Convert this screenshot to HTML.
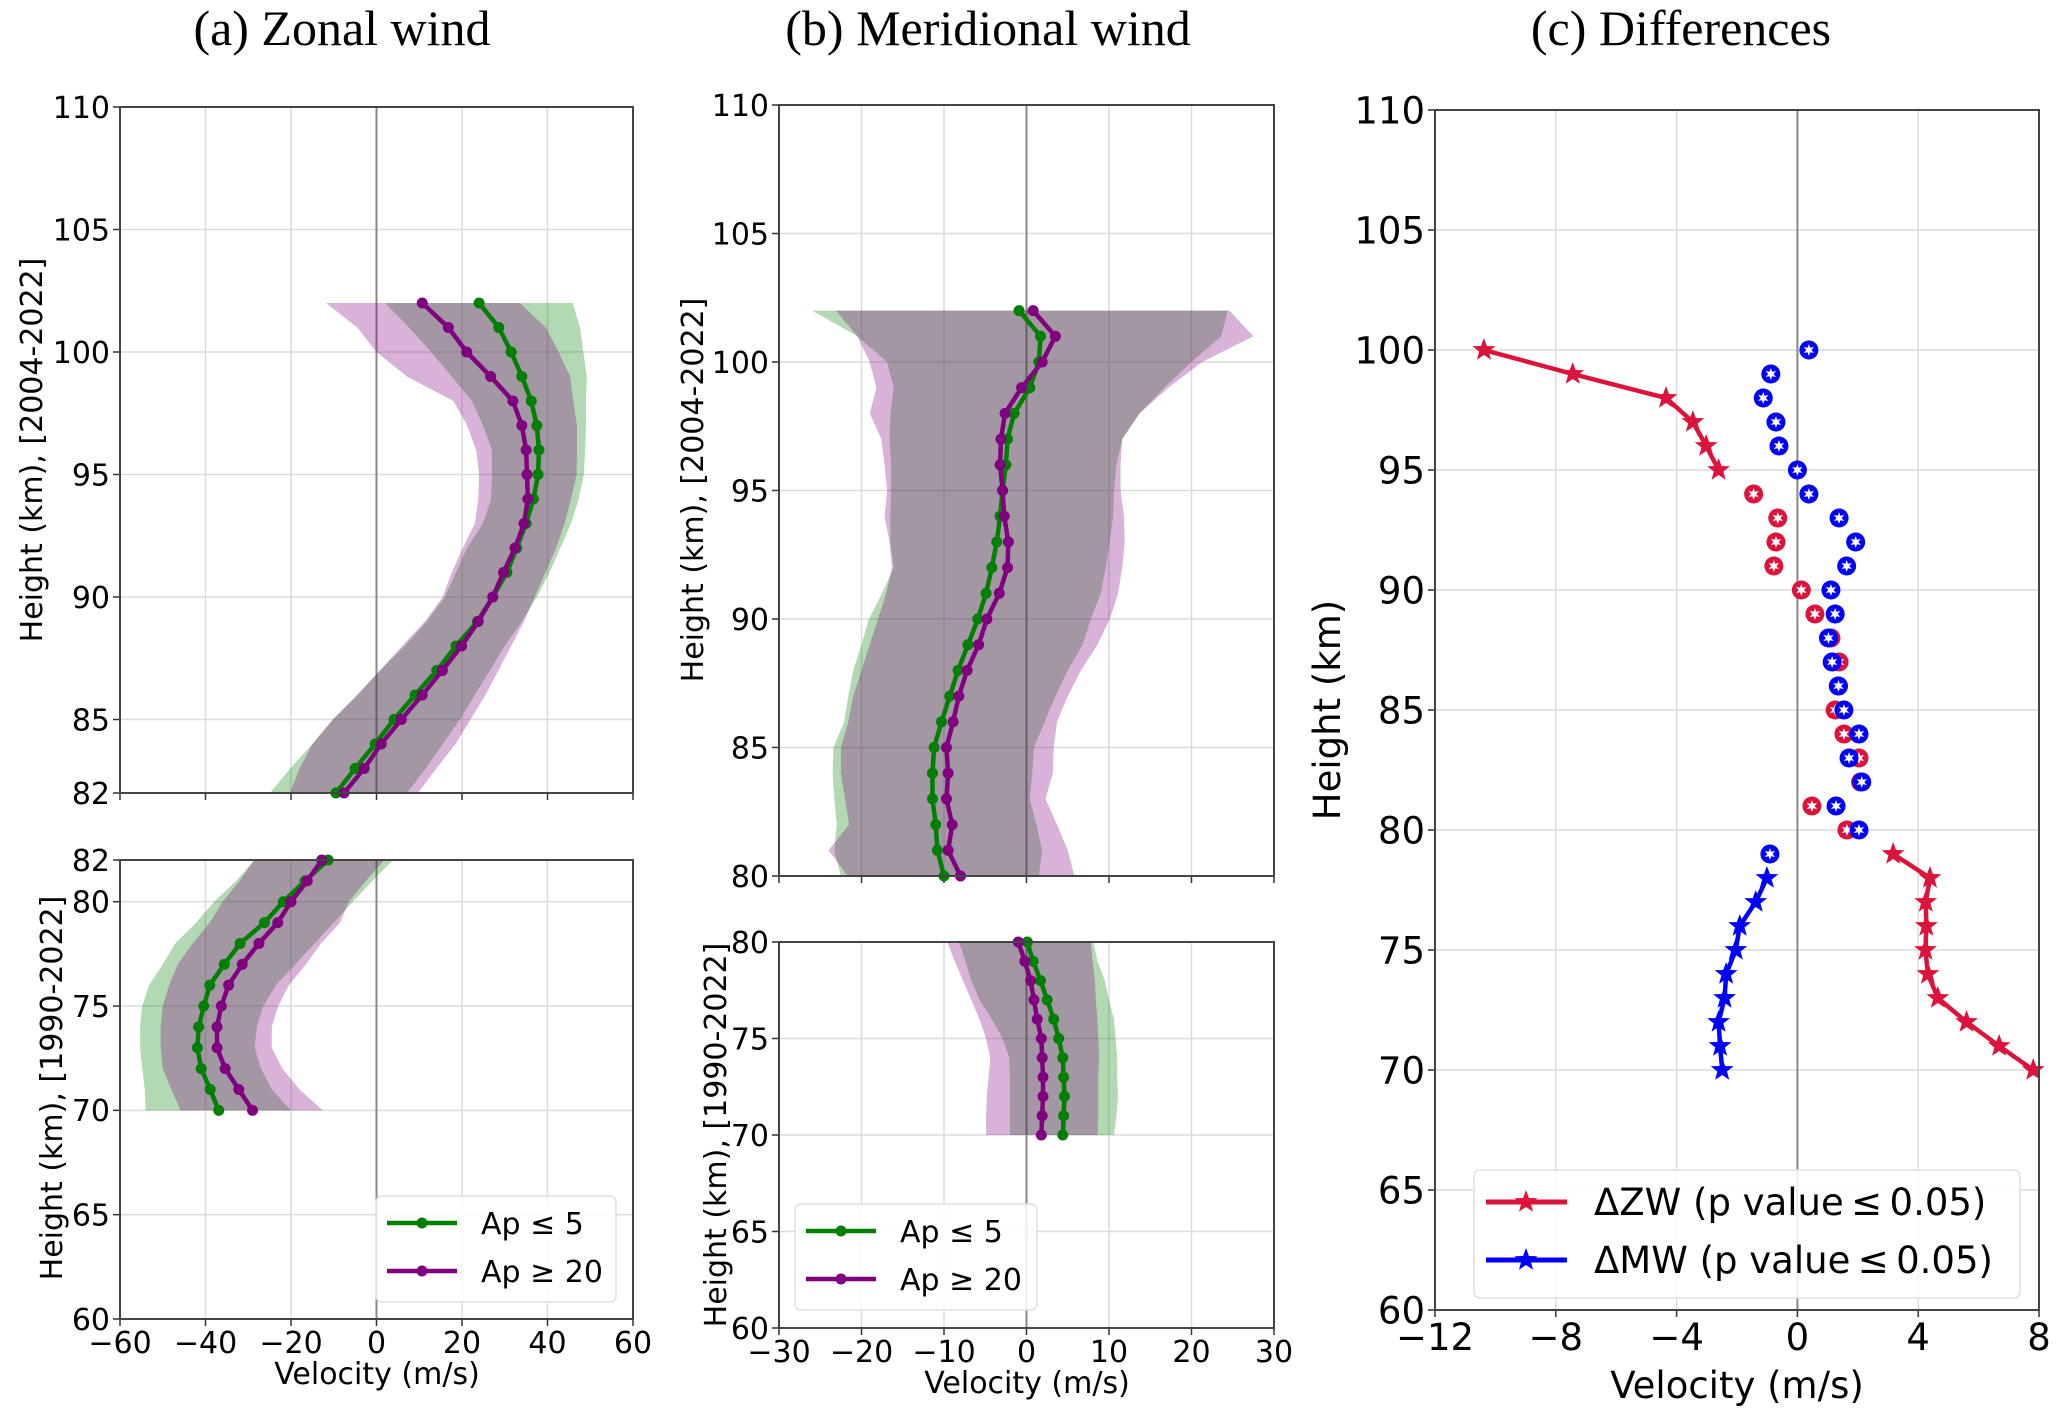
<!DOCTYPE html>
<html><head><meta charset="utf-8">
<style>
html,body{margin:0;padding:0;background:#fff;}
svg{display:block;}
text{font-family:"DejaVu Sans","Liberation Sans",sans-serif;fill:#000;}
.ttl{font-family:"Liberation Serif",serif;font-size:50px;}
</style></head>
<body>
<svg id="chart" width="2067" height="1411" viewBox="0 0 2067 1411" xmlns="http://www.w3.org/2000/svg">
<text class="ttl" x="342" y="45" text-anchor="middle">(a) Zonal wind</text>
<text class="ttl" x="988" y="45" text-anchor="middle">(b) Meridional wind</text>
<text class="ttl" x="1681" y="45" text-anchor="middle">(c) Differences</text>
</svg>
<script>
// ---- Panel (a) zonal wind, upper (2004-2022) ----
const aTopH=[102,101,100,99,98,97,96,95,94,93,92,91,90,89,88,87,86,85,84,83,82];
const aTopGreen=[24,28.6,31.5,34,36.2,37.5,38,37.8,36.7,35,32.8,30.5,27.2,23.6,18.6,14.1,9,4.1,-0.3,-5,-9.5];
const aTopPurple=[10.7,16.8,21.1,26.7,31.9,34,35,35.2,35.4,34.5,32.4,29.7,27.2,23.8,19.9,15.4,10.7,5.8,1.1,-2.9,-7.6];
const aTopGreenLo=[2,7.6,12.8,17.6,22.3,24.9,27,27,26.8,24.9,21.2,18.6,16,11.8,6.6,0.8,-4.5,-10.2,-15,-20.2,-24.9];
const aTopGreenHi=[45.9,47.6,48.4,49.2,49,49,48.8,48.5,47.3,45.5,43,40.5,37.5,34,30,26.5,23,19.5,15.5,11.5,7.1];
const aTopPurpleLo=[-11.8,-4.5,0,7.1,18,21.2,23.3,24,23.8,23,20.2,17.6,15.5,11.3,6,0.8,-4.5,-10.2,-15,-18,-20.2];
const aTopPurpleHi=[33.5,39.6,42.6,45.3,46,46.9,46.9,46.8,45.5,44,42,39.5,37,34.5,31.5,28.5,25.5,22,18.5,14,9.7];
// ---- Panel (a) lower (1990-2022) ----
const aLowH=[82,81,80,79,78,77,76,75,74,73,72,71,70];
const aLowGreen=[-11.3,-16.7,-21.8,-26.2,-31.9,-35.6,-39,-40.4,-41.6,-41.9,-41,-38.9,-36.9];
const aLowPurple=[-12.8,-16.2,-20,-23.1,-27.5,-31.4,-34.6,-36.3,-37.3,-37.3,-35.4,-32.2,-29];
const aLowGreenLo=[-28.6,-32.8,-38,-42.2,-47.1,-50,-53.2,-54.8,-55.3,-55.3,-54.8,-54.2,-54];
const aLowGreenHi=[3.9,-1,-5.5,-10,-14.5,-19,-23.5,-26.5,-28,-28.5,-27,-24.5,-20];
const aLowPurpleLo=[-28.6,-32,-36,-39,-43,-46.5,-48.5,-50,-50.5,-50.5,-50,-48,-45.8];
const aLowPurpleHi=[1.8,-2.5,-6.5,-8.5,-13,-16.5,-20.5,-23,-24.5,-24.5,-22,-18,-12.6];
// ---- Panel (b) meridional wind, upper ----
const bTopH=[102,101,100,99,98,97,96,95,94,93,92,91,90,89,88,87,86,85,84,83,82,81,80];
const bTopGreen=[-0.9,1.7,1.5,0.4,-1.5,-2.3,-2.5,-2.9,-3.2,-3.6,-4.2,-4.9,-5.9,-7.1,-8.3,-9.3,-10.3,-11.2,-11.4,-11.4,-11,-10.8,-10];
const bTopPurple=[0.8,3.5,1.9,-0.6,-2.6,-3.1,-3.2,-2.9,-2.7,-2.2,-2.3,-3.3,-4.8,-5.8,-7.2,-8.2,-8.9,-9.7,-9.5,-9.7,-9,-9.5,-8];
const bTopGreenLo=[-26,-20.5,-16.9,-16.1,-16.5,-16.6,-16.4,-16.4,-16.5,-16.5,-16.1,-17.5,-19.1,-20,-21,-21.6,-22.1,-23.4,-23.5,-23.3,-23,-23.3,-22.5];
const bTopGreenHi=[24.4,23.6,20,16.7,13.7,11.6,10.9,10.6,10.5,10.1,9.6,9,7.8,6.8,5,3.5,2.2,0.9,0.7,0.4,1.2,1.9,1.5];
const bTopPurpleLo=[-23.1,-20.5,-19,-18.2,-19,-17.6,-17.2,-16.9,-17.2,-16.6,-16.3,-17,-18,-19,-20,-21,-21.6,-22.5,-22.5,-22,-21.5,-24,-21.7];
const bTopPurpleHi=[24.6,27.5,21.3,17.2,13.7,11.6,11.4,11.4,11.8,11.9,11.6,11.1,10.1,8.6,6.6,5,3.7,3.3,3.2,2.3,3.7,5,5.8];
// ---- Panel (b) lower ----
const bLowH=[80,79,78,77,76,75,74,73,72,71,70];
const bLowGreen=[0.1,0.8,1.7,2.5,3.3,3.9,4.4,4.5,4.6,4.5,4.4];
const bLowPurple=[-1,-0.2,0.5,0.9,1.3,1.8,1.9,2,2,1.9,1.8];
const bLowGreenLo=[-8.2,-7.4,-6.7,-5.7,-4.2,-2.9,-2.1,-2,-2,-2,-2];
const bLowGreenHi=[8.1,8.6,9.5,10,10.6,10.8,11,11,11.1,10.9,10.6];
const bLowPurpleLo=[-9.6,-8.7,-7.7,-6.7,-5.7,-4.9,-4.4,-4.6,-4.8,-4.9,-4.9];
const bLowPurpleHi=[7.8,8,8.3,8.4,8.6,8.7,8.8,8.7,8.7,8.7,8.6];
// ---- Panel (c) differences ----
const cZWTopH=[100,99,98,97,96,95];
const cZWTop=[-10.38,-7.44,-4.35,-3.46,-3.02,-2.61];
const cZWDotH=[94,93,92,91,90,89,88,87,86,85,84,83,82,81,80];
const cZWDot=[-1.45,-0.65,-0.71,-0.78,0.13,0.58,1.11,1.38,1.35,1.25,1.54,2.04,2.09,0.48,1.64];
const cZWLowH=[79,78,77,76,75,74,73,72,71,70];
const cZWLow=[3.17,4.39,4.25,4.27,4.24,4.32,4.65,5.6,6.68,7.81];
const cMWDotH=[100,99,98,97,96,95,94,93,92,91,90,89,88,87,86,85,84,83,82,81,80,79];
const cMWDot=[0.38,-0.88,-1.13,-0.71,-0.61,0,0.38,1.38,1.93,1.63,1.11,1.25,1.03,1.15,1.36,1.54,2.04,1.71,2.13,1.28,2.04,-0.91];
const cMWLowH=[78,77,76,75,74,73,72,71,70];
const cMWLow=[-1.01,-1.38,-1.91,-2.04,-2.36,-2.41,-2.61,-2.56,-2.49];
const aXTicks=[-60,-40,-20,0,20,40,60];
const bXTicks=[-30,-20,-10,0,10,20,30];
const cXTicks=[-12,-8,-4,0,4,8];

const svg=document.getElementById('chart');
const NS='http://www.w3.org/2000/svg';
function mk(tag,attrs,parent){const e=document.createElementNS(NS,tag);for(const k in attrs)e.setAttribute(k,attrs[k]);(parent||svg).appendChild(e);return e;}

function axis(o){
  const sx=v=>o.x0+(v-o.xmin)/(o.xmax-o.xmin)*(o.x1-o.x0);
  const sy=h=>o.y1-(h-o.ymin)/(o.ymax-o.ymin)*(o.y1-o.y0);
  const g=mk('g',{});
  
  
  o.xticks.forEach(t=>{
    const l=mk('line',{x1:sx(t),x2:sx(t),y1:o.y0,y2:o.y1,stroke:'#dcdcdc','stroke-width':1.5},g);
    
    
    mk('line',{x1:sx(t),x2:sx(t),y1:o.y1,y2:o.y1+7,stroke:'#333','stroke-width':1.5},g);
    if(o.xlabels){const tx=mk('text',{x:sx(t),y:o.y1+o.tickDy,'text-anchor':'middle','font-size':o.fs},g);tx.textContent=t<0?'\u2212'+(-t):String(t);
      
      }
  });
  o.yticks.forEach(t=>{
    const l=mk('line',{x1:o.x0,x2:o.x1,y1:sy(t),y2:sy(t),stroke:'#dcdcdc','stroke-width':1.5},g);
    
    
    mk('line',{x1:o.x0-7,x2:o.x0,y1:sy(t),y2:sy(t),stroke:'#333','stroke-width':1.5},g);
    const tx=mk('text',{x:o.x0-10,y:sy(t)+o.fs*0.36,'text-anchor':'end','font-size':o.fs},g);tx.textContent=t;
    
    
  });
  const z=mk('line',{x1:sx(0),x2:sx(0),y1:o.y0,y2:o.y1,stroke:'#888','stroke-width':2},g);
  
  
  o.sx=sx;o.sy=sy;o.g=g;return o;
}
function frame(o){const r=mk('rect',{x:o.x0,y:o.y0,width:o.x1-o.x0,height:o.y1-o.y0,fill:'none',stroke:'#444','stroke-width':2});
  
  }
function band(o,H,lo,hi,color,name){
  let d='';H.forEach((h,i)=>{d+=(i?'L':'M')+o.sx(lo[i])+','+o.sy(h);});
  for(let i=H.length-1;i>=0;i--)d+='L'+o.sx(hi[i])+','+o.sy(H[i]);
  const p=mk('path',{d:d+'Z',fill:color,'fill-opacity':0.3,stroke:'none'});
  
  
}
function line(o,H,V,color,name,w){
  const pts=H.map((h,i)=>o.sx(V[i])+','+o.sy(h)).join(' ');
  const p=mk('polyline',{points:pts,fill:'none',stroke:color,'stroke-width':w||4.5,'stroke-linejoin':'round'});
  
  
}
function dots(o,H,V,color,name,r){
  H.forEach((h,i)=>{const c=mk('circle',{cx:o.sx(V[i]),cy:o.sy(h),r:r||5.5,fill:color});
    
    });
}
function starPath(cx,cy,R,r,n){let d='';for(let i=0;i<2*n;i++){const a=-Math.PI/2+i*Math.PI/n;const rr=i%2?r:R;d+=(i?'L':'M')+(cx+rr*Math.cos(a)).toFixed(2)+','+(cy+rr*Math.sin(a)).toFixed(2);}return d+'Z';}
function stars(o,H,V,color,name){
  H.forEach((h,i)=>{const p=mk('path',{d:starPath(o.sx(V[i]),o.sy(h),12,5,5),fill:color});
    
    });
}
function circStars(o,H,V,color,name){
  H.forEach((h,i)=>{const x=o.sx(V[i]),y=o.sy(h);
    const c=mk('circle',{cx:x,cy:y,r:9.5,fill:color});
    
    
    mk('path',{d:starPath(x,y,6,2.6,6),fill:'#fff'});});
}
function text(x,y,s,fs,name,rot,anchor){
  const t=mk('text',{x:x,y:y,'font-size':fs,'text-anchor':anchor||'middle'});
  if(rot)t.setAttribute('transform','rotate(-90 '+x+' '+y+')');
  t.textContent=s;
  
  
  return t;
}
const G='#008000',P='#800080';
function panelWind(o,H,gl,gh,pl,ph,gv,pv){
  band(o,H,gl,gh,G,'green-band');band(o,H,pl,ph,P,'purple-band');
  line(o,H,gv,G,'green-line');dots(o,H,gv,G,'green-point');
  line(o,H,pv,P,'purple-line');dots(o,H,pv,P,'purple-point');
  frame(o);
}
// Panel a
const aT=axis({name:'panel-a-upper',x0:120,x1:633,y0:107,y1:793,xmin:-60,xmax:60,ymin:82,ymax:110,xticks:aXTicks,yticks:[82,85,90,95,100,105,110],xlabels:false,fs:30,tickDy:34});
panelWind(aT,aTopH,aTopGreenLo,aTopGreenHi,aTopPurpleLo,aTopPurpleHi,aTopGreen,aTopPurple);
const aL=axis({name:'panel-a-lower',x0:120,x1:633,y0:860,y1:1319,xmin:-60,xmax:60,ymin:60,ymax:82,xticks:aXTicks,yticks:[60,65,70,75,80,82],xlabels:true,fs:30,tickDy:34});
panelWind(aL,aLowH,aLowGreenLo,aLowGreenHi,aLowPurpleLo,aLowPurpleHi,aLowGreen,aLowPurple);
text(42,450,'Height (km), [2004-2022]',30,'y-axis-title-a-upper',true);
text(62,1088,'Height (km), [1990-2022]',30,'y-axis-title-a-lower',true);
text(377,1384,'Velocity (m/s)',30,'x-axis-title-a');
// Panel b
const bT=axis({name:'panel-b-upper',x0:779,x1:1274,y0:105,y1:876,xmin:-30,xmax:30,ymin:80,ymax:110,xticks:bXTicks,yticks:[80,85,90,95,100,105,110],xlabels:false,fs:30,tickDy:34});
panelWind(bT,bTopH,bTopGreenLo,bTopGreenHi,bTopPurpleLo,bTopPurpleHi,bTopGreen,bTopPurple);
const bL=axis({name:'panel-b-lower',x0:779,x1:1274,y0:942,y1:1328,xmin:-30,xmax:30,ymin:60,ymax:80,xticks:bXTicks,yticks:[60,65,70,75,80],xlabels:true,fs:30,tickDy:34});
panelWind(bL,bLowH,bLowGreenLo,bLowGreenHi,bLowPurpleLo,bLowPurpleHi,bLowGreen,bLowPurple);
text(703,490,'Height (km), [2004-2022]',30,'y-axis-title-b-upper',true);
text(726,1135,'Height (km), [1990-2022]',30,'y-axis-title-b-lower',true);
text(1027,1393,'Velocity (m/s)',30,'x-axis-title-b');
// Panel c
const cP=axis({name:'panel-c',x0:1435,x1:2039,y0:110,y1:1310,xmin:-12,xmax:8,ymin:60,ymax:110,xticks:cXTicks,yticks:[60,65,70,75,80,85,90,95,100,105,110],xlabels:true,fs:37,tickDy:40});
line(cP,cZWTopH,cZWTop,'#dc143c','zw-line-upper',4.5);stars(cP,cZWTopH,cZWTop,'#dc143c','zw-star');
line(cP,cZWLowH,cZWLow,'#dc143c','zw-line-lower',4.5);stars(cP,cZWLowH,cZWLow,'#dc143c','zw-star');
line(cP,cMWLowH,cMWLow,'#0000ff','mw-line',4.5);stars(cP,cMWLowH,cMWLow,'#0000ff','mw-star');
circStars(cP,cZWDotH,cZWDot,'#dc143c','zw-nonsignificant-point');
circStars(cP,cMWDotH,cMWDot,'#0000ff','mw-nonsignificant-point');
frame(cP);
text(1340,710,'Height (km)',37,'y-axis-title-c',true);
text(1737,1398,'Velocity (m/s)',37,'x-axis-title-c');
// Legends
function legendAB(x,y,w,h,name){
  const g=mk('g',{});
  
  
  mk('rect',{x:x,y:y,width:w,height:h,rx:6,fill:'#fff','fill-opacity':0.85,stroke:'#e0e0e0','stroke-width':1.5},g);
  [[G,'Ap \u2264 5',27],[P,'Ap \u2265 20',75]].forEach(e=>{
    mk('line',{x1:x+11,x2:x+81,y1:y+e[2],y2:y+e[2],stroke:e[0],'stroke-width':4.5},g);
    mk('circle',{cx:x+46,cy:y+e[2],r:5.5,fill:e[0]},g);
    const t=mk('text',{x:x+105,y:y+e[2]+11,'font-size':30},g);t.textContent=e[1];
    
    
  });
}
legendAB(376,1196,240,106,'legend-a');
legendAB(795,1204,242,106,'legend-b');
(function(){
  const g=mk('g',{});
  
  
  mk('rect',{x:1474,y:1170,width:546,height:128,rx:6,fill:'#fff','fill-opacity':0.85,stroke:'#e0e0e0','stroke-width':1.5},g);
  [['#dc143c','\u0394ZW (p value\u2009\u2264\u20090.05)',1202],['#0000ff','\u0394MW (p value\u2009\u2264\u20090.05)',1260]].forEach(e=>{
    mk('line',{x1:1486,x2:1567,y1:e[2],y2:e[2],stroke:e[0],'stroke-width':5},g);
    mk('path',{d:starPath(1526,e[2],12,5,5),fill:e[0]},g);
    const t=mk('text',{x:1594,y:e[2]+13,'font-size':37},g);t.textContent=e[1];
    
    
  });
})();
</script>
</body></html>
